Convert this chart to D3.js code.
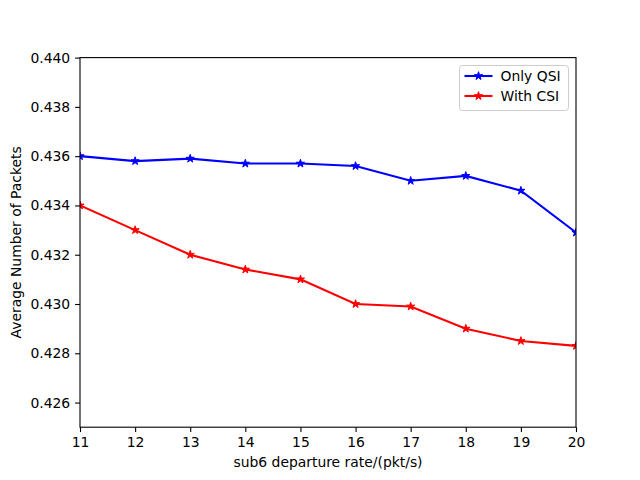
<!DOCTYPE html>
<html>
<head>
  <meta charset="utf-8">
  <script src="https://d3js.org/d3.v7.min.js"></script>
  <style>
    body { margin: 0; background: #fff; }
    text { font-family: "DejaVu Sans", sans-serif; }
  </style>
</head>
<body>
<script type="text/javascript">

  // departure rates on the x axis
  var rates = [11, 12, 13, 14, 15, 16, 17, 18, 19, 20];
  // series values
  var onlyQSI = [0.4360, 0.4358, 0.4359, 0.4357, 0.4357, 0.4356, 0.4350, 0.4352, 0.4346, 0.4329];
  var withCSI = [0.4340, 0.4330, 0.4320, 0.4314, 0.4310, 0.4300, 0.4299, 0.4290, 0.4285, 0.4283];
  var yTicks = [0.426, 0.428, 0.430, 0.432, 0.434, 0.436, 0.438, 0.440];
  var seriesNames = ["Only QSI", "With CSI"];
  var seriesColors = ["#0000ff", "#ff0000"];

  var width = 640, height = 480;
  // plot area (matplotlib default subplot position)
  var pLeft = 80, pRight = 576, pTop = 57.6, pBottom = 427.2;

  var svg = d3.select("body").append("svg")
      .attr("width", width)
      .attr("height", height);

  var x = d3.scaleLinear().domain([11, 20]).range([pLeft, pRight]);
  var y = d3.scaleLinear().domain([0.425, 0.440]).range([pBottom, pTop]);

  // star marker like matplotlib's '*'
  function star(r) {
    var pts = [];
    for (var i = 0; i < 10; i++) {
      var rr = i % 2 === 0 ? r : r * 0.381966;
      var a = -Math.PI / 2 + i * Math.PI / 5;
      pts.push([rr * Math.cos(a), rr * Math.sin(a)]);
    }
    return "M" + pts.map(function(p) { return p[0].toFixed(2) + "," + p[1].toFixed(2); }).join("L") + "Z";
  }

  // axes
  var xAxis = d3.axisBottom(x).tickValues(rates).tickSize(4.9).tickPadding(4.9)
      .tickFormat(d3.format("d"));
  var yAxis = d3.axisLeft(y).tickValues(yTicks).tickSize(4.9).tickPadding(4.9)
      .tickFormat(d3.format(".3f"));

  var gx = svg.append("g").attr("transform", "translate(0," + pBottom + ")").call(xAxis);
  var gy = svg.append("g").attr("transform", "translate(" + pLeft + ",0)").call(yAxis);
  [gx, gy].forEach(function(g) {
    g.select(".domain").remove();
    g.selectAll("line").attr("stroke", "#000").attr("stroke-width", 1.1);
    g.selectAll("text").attr("fill", "#000").style("font-size", "13.9px")
      .style("font-family", "DejaVu Sans, sans-serif");
  });

  // clip lines to the axes area
  svg.append("clipPath").attr("id", "clip")
    .append("rect").attr("x", pLeft).attr("y", pTop)
    .attr("width", pRight - pLeft).attr("height", pBottom - pTop);

  var line = d3.line()
      .x(function(d, i) { return x(rates[i]); })
      .y(function(d) { return y(d); });

  [onlyQSI, withCSI].forEach(function(vals, k) {
    var g = svg.append("g").attr("clip-path", "url(#clip)");
    g.append("path")
      .attr("d", line(vals))
      .attr("fill", "none")
      .attr("stroke", seriesColors[k])
      .attr("stroke-width", 2.08);
    g.selectAll(".m").data(vals).enter().append("path")
      .attr("d", star(4.3))
      .attr("transform", function(d, i) { return "translate(" + x(rates[i]) + "," + y(d) + ")"; })
      .attr("fill", seriesColors[k])
      .attr("stroke", seriesColors[k])
      .attr("stroke-width", 1);
  });

  // frame
  svg.append("rect")
    .attr("x", pLeft).attr("y", pTop)
    .attr("width", pRight - pLeft).attr("height", pBottom - pTop)
    .attr("fill", "none").attr("stroke", "#000").attr("stroke-width", 1.1);

  // axis labels
  svg.append("text")
    .attr("x", (pLeft + pRight) / 2).attr("y", 467)
    .attr("text-anchor", "middle")
    .style("font-size", "13.9px")
    .text("sub6 departure rate/(pkt/s)");

  svg.append("text")
    .attr("transform", "translate(21," + (pTop + pBottom) / 2 + ") rotate(-90)")
    .attr("text-anchor", "middle")
    .style("font-size", "13.9px")
    .text("Average Number of Packets");

  // legend
  var lg = svg.append("g").attr("transform", "translate(459.5,65.5)");
  lg.append("rect")
    .attr("width", 109).attr("height", 45).attr("rx", 3)
    .attr("fill", "#fff").attr("fill-opacity", 0.8)
    .attr("stroke", "#ccc").attr("stroke-width", 1);
  seriesNames.forEach(function(name, k) {
    var yy = 10.5 + k * 20;
    lg.append("line")
      .attr("x1", 5).attr("x2", 33).attr("y1", yy).attr("y2", yy)
      .attr("stroke", seriesColors[k]).attr("stroke-width", 2.08);
    lg.append("path")
      .attr("d", star(4.3))
      .attr("transform", "translate(19," + yy + ")")
      .attr("fill", seriesColors[k]).attr("stroke", seriesColors[k]).attr("stroke-width", 1);
    lg.append("text")
      .attr("x", 41).attr("y", yy + 5)
      .style("font-size", "13.9px")
      .text(name);
  });

</script>
</body>
</html>
